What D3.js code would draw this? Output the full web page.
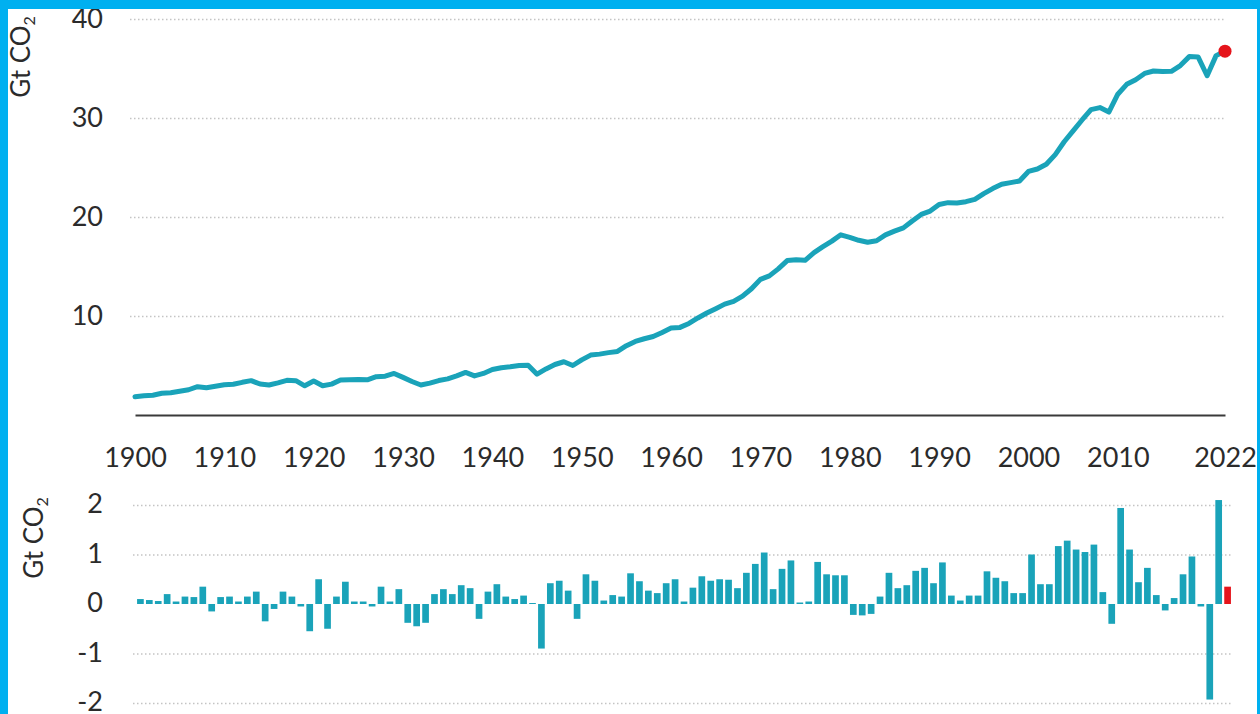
<!DOCTYPE html>
<html>
<head>
<meta charset="utf-8">
<script src="https://cdn.jsdelivr.net/npm/d3@7"></script>
<style>
  html, body { margin: 0; padding: 0; background: #fff; }
  svg { display: block; }
  text { font-family: Lato, "Open Sans", sans-serif; fill: #2b2b2b; }
</style>
</head>
<body>
<svg id="chart" width="1260" height="714"></svg>
<script>
// ---------- DATA ----------
const firstYear = 1900;
const lastYear = 2022;
const xTickYears = [1900, 1910, 1920, 1930, 1940, 1950, 1960, 1970, 1980, 1990, 2000, 2010, 2022];
const topTicks = [10, 20, 30, 40];
const bottomTicks = [-2, -1, 0, 1, 2];
const bottomGrid = [-2, -1, 1, 2];
const unitLabel = "Gt CO";
const unitSub = "2";

// Global CO2 emissions, Gt CO2, 1900-2022
const emissions = [
  1.85, 1.95, 2.00, 2.20, 2.25, 2.40, 2.55, 2.86, 2.75, 2.90,   // 1900-1909
  3.05, 3.10, 3.30, 3.47, 3.13, 3.03, 3.25, 3.50, 3.47, 2.95,   // 1910-1919
  3.43, 2.95, 3.12, 3.53, 3.55, 3.58, 3.55, 3.87, 3.92, 4.20,   // 1920-1929
  3.80, 3.38, 3.03, 3.22, 3.48, 3.65, 3.95, 4.30, 3.95, 4.20,   // 1930-1939
  4.60, 4.78, 4.87, 5.00, 5.02, 4.12, 4.65, 5.10, 5.38, 5.00,   // 1940-1949
  5.57, 6.05, 6.15, 6.30, 6.42, 7.00, 7.43, 7.70, 7.93, 8.34,   // 1950-1959
  8.78, 8.85, 9.25, 9.80, 10.30, 10.74, 11.20, 11.48, 12.00, 12.75, // 1960-1969
  13.70, 14.05, 14.76, 15.60, 15.68, 15.62, 16.40, 17.00, 17.56, 18.20, // 1970-1979
  17.95, 17.65, 17.45, 17.60, 18.20, 18.57, 18.90, 19.60, 20.26, 20.60, // 1980-1989
  21.27, 21.45, 21.42, 21.55, 21.78, 22.36, 22.87, 23.30, 23.47, 23.64, // 1990-1999
  24.60, 24.85, 25.33, 26.30, 27.60, 28.70, 29.80, 30.85, 31.05, 30.60, // 2000-2009
  32.40, 33.40, 33.87, 34.50, 34.75, 34.70, 34.72, 35.30, 36.20, 36.15, // 2010-2019
  34.27, 36.30, 36.75                                                  // 2020-2022
];

// Annual change, Gt CO2, 1900-2022
const changes = [
  0.10, 0.08, 0.06, 0.20, 0.05, 0.15, 0.14, 0.35, -0.15, 0.14,   // 1900-1909
  0.15, 0.05, 0.15, 0.25, -0.35, -0.10, 0.25, 0.15, -0.05, -0.55, // 1910-1919
  0.50, -0.50, 0.15, 0.45, 0.05, 0.05, -0.05, 0.35, 0.05, 0.30,   // 1920-1929
  -0.38, -0.45, -0.38, 0.20, 0.30, 0.20, 0.38, 0.32, -0.30, 0.25, // 1930-1939
  0.40, 0.15, 0.10, 0.17, 0.02, -0.90, 0.42, 0.47, 0.27, -0.30,   // 1940-1949
  0.60, 0.47, 0.07, 0.18, 0.15, 0.62, 0.46, 0.27, 0.22, 0.42,     // 1950-1959
  0.50, 0.05, 0.33, 0.56, 0.47, 0.50, 0.49, 0.32, 0.63, 0.81,     // 1960-1969
  1.04, 0.30, 0.71, 0.88, 0.03, 0.05, 0.85, 0.60, 0.58, 0.58,     // 1970-1979
  -0.22, -0.23, -0.20, 0.15, 0.63, 0.32, 0.38, 0.67, 0.73, 0.42,  // 1980-1989
  0.84, 0.17, 0.07, 0.17, 0.17, 0.66, 0.53, 0.46, 0.22, 0.22,     // 1990-1999
  1.00, 0.40, 0.40, 1.17, 1.28, 1.10, 1.05, 1.20, 0.24, -0.40,    // 2000-2009
  1.94, 1.10, 0.44, 0.73, 0.18, -0.13, 0.12, 0.60, 0.96, -0.05,   // 2010-2019
  -1.93, 2.10, 0.35                                               // 2020-2022
];

const years = d3.range(firstYear, lastYear + 1);

// ---------- STYLE ----------
const teal = "#1aa3b9";
const red = "#e5141b";
const frame = "#00b0f0";
const gridColor = "#c4c4c4";

const svg = d3.select("#chart");

// ---------- TOP PANEL ----------
const x = d3.scaleLinear().domain([firstYear, lastYear]).range([135, 1225]);
const yTop = d3.scaleLinear().domain([0, 40]).range([415, 19]);

const topGrid = svg.append("g")
  .attr("transform", "translate(130,0)")
  .call(d3.axisLeft(yTop).tickValues(topTicks).tickSize(-(1225 - 130)).tickPadding(27));
topGrid.select(".domain").remove();
topGrid.selectAll(".tick line")
  .attr("stroke", gridColor).attr("stroke-width", 1.5).attr("stroke-dasharray", "1.5,2.5");
topGrid.selectAll(".tick text")
  .style("font-size", "27px").attr("fill", "#2b2b2b");

const xAxis = svg.append("g")
  .attr("transform", "translate(0,415)")
  .call(d3.axisBottom(x).tickValues(xTickYears).tickSize(0).tickPadding(33).tickFormat(d => String(d)));
xAxis.select(".domain").attr("stroke", "#3a3a3a").attr("stroke-width", 2);
xAxis.selectAll(".tick text").style("font-size", "27px").attr("fill", "#2b2b2b");

const line = d3.line()
  .x((d, i) => x(years[i]))
  .y(d => yTop(d))
  .curve(d3.curveLinear);

svg.append("path")
  .datum(emissions)
  .attr("d", line)
  .attr("fill", "none")
  .attr("stroke", teal)
  .attr("stroke-width", 5)
  .attr("stroke-linejoin", "round")
  .attr("stroke-linecap", "round");

svg.append("circle")
  .attr("cx", x(lastYear))
  .attr("cy", yTop(emissions[emissions.length - 1]))
  .attr("r", 6.5)
  .attr("fill", red);

// ---------- BOTTOM PANEL ----------
const xb = d3.scaleBand().domain(years).range([136, 1232]).paddingInner(0.25).paddingOuter(0.12);
const yBot = d3.scaleLinear().domain([-2, 2]).range([703, 505]);

const botGrid = svg.append("g")
  .attr("transform", "translate(133,0)")
  .call(d3.axisLeft(yBot).tickValues(bottomGrid).tickSize(-(1232 - 133)).tickFormat(""));
botGrid.select(".domain").remove();
botGrid.selectAll(".tick line")
  .attr("stroke", gridColor).attr("stroke-width", 1.5).attr("stroke-dasharray", "1.5,2.5");

const botLabels = svg.append("g")
  .attr("transform", "translate(133,0)")
  .call(d3.axisLeft(yBot).tickValues(bottomTicks).tickSize(0).tickPadding(30).tickFormat(d => String(d)));
botLabels.select(".domain").remove();
botLabels.selectAll(".tick text").style("font-size", "27px").attr("fill", "#2b2b2b").attr("dy", "0.28em");

svg.append("g")
  .selectAll("rect")
  .data(changes)
  .join("rect")
  .attr("x", (d, i) => xb(years[i]))
  .attr("width", xb.bandwidth())
  .attr("y", d => yBot(Math.max(0, d)))
  .attr("height", d => Math.abs(yBot(d) - yBot(0)))
  .attr("fill", (d, i) => years[i] === lastYear ? red : teal);

// ---------- AXIS TITLES ----------
function unitTitle(tx, ty) {
  const t = svg.append("text")
    .attr("transform", `translate(${tx},${ty}) rotate(-90)`)
    .attr("text-anchor", "middle")
    .style("font-size", "26px");
  t.append("tspan").text(unitLabel);
  t.append("tspan").text(unitSub).style("font-size", "16px").attr("dy", "0.3em");
}
unitTitle(30, 57);
unitTitle(43, 538);

// ---------- FRAME ----------
svg.append("rect").attr("x", 0).attr("y", 0).attr("width", 1260).attr("height", 9).attr("fill", frame);
svg.append("rect").attr("x", 0).attr("y", 0).attr("width", 8).attr("height", 714).attr("fill", frame);
svg.append("rect").attr("x", 1257).attr("y", 0).attr("width", 3).attr("height", 714).attr("fill", frame);
</script>
</body>
</html>
